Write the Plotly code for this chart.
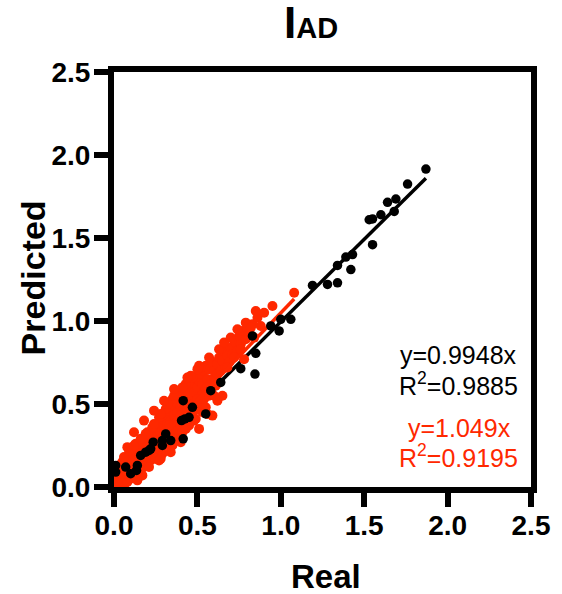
import plotly.graph_objects as go

# ---------------- data ----------------
black_real = [1.87, 1.76, 1.69, 1.64, 1.68, 1.60, 1.53, 1.55, 1.55, 1.43,
              1.39, 1.34, 1.42, 1.19, 1.28, 1.34, 1.00, 1.06, 0.94, 0.99,
              0.83, 0.85, 0.76, 0.845, 0.64, 0.58, 0.415, 0.47, 0.55, 0.45,
              0.425, 0.405, 0.31, 0.29, 0.29, 0.415, 0.235, 0.22, 0.19, 0.16,
              0.14, 0.135, 0.01, 0.01, 0.07, 0.10, 0.34, 0.21]
black_pred = [1.915, 1.825, 1.735, 1.715, 1.66, 1.64, 1.61, 1.615, 1.46, 1.40,
              1.385, 1.335, 1.31, 1.214, 1.22, 1.23, 1.01, 1.01, 0.97, 0.94,
              0.91, 0.805, 0.713, 0.68, 0.63, 0.58, 0.52, 0.48, 0.44, 0.42,
              0.41, 0.40, 0.32, 0.28, 0.25, 0.29, 0.27, 0.23, 0.21, 0.19,
              0.13, 0.10, 0.13, 0.09, 0.12, 0.08, 0.28, 0.22]

red_real = [0.00, 0.00, 0.01, 0.01, 0.02, 0.02, 0.03, 0.03, 0.04, 0.04,
            0.05, 0.05, 0.06, 0.06, 0.07, 0.07, 0.08, 0.08, 0.09, 0.09,
            0.10, 0.10, 0.11, 0.11, 0.12, 0.12, 0.13, 0.13, 0.14, 0.14,
            0.15, 0.15, 0.16, 0.16, 0.17, 0.17, 0.18, 0.18, 0.19, 0.19,
            0.20, 0.20, 0.21, 0.21, 0.22, 0.22, 0.23, 0.23, 0.24, 0.24,
            0.25, 0.25, 0.26, 0.26, 0.27, 0.27, 0.28, 0.28, 0.29, 0.29,
            0.30, 0.30, 0.31, 0.31, 0.32, 0.32, 0.33, 0.33, 0.34, 0.34,
            0.35, 0.35, 0.36, 0.36, 0.37, 0.37, 0.38, 0.38, 0.39, 0.39,
            0.40, 0.40, 0.41, 0.41, 0.42, 0.42, 0.43, 0.43, 0.44, 0.44,
            0.45, 0.45, 0.46, 0.46, 0.47, 0.47, 0.48, 0.48, 0.49, 0.49,
            0.50, 0.50, 0.51, 0.51, 0.52, 0.52, 0.53, 0.53, 0.54, 0.54,
            0.55, 0.55, 0.56, 0.57, 0.57, 0.58, 0.59, 0.59, 0.60, 0.60,
            0.61, 0.62, 0.62, 0.63, 0.64, 0.65, 0.65, 0.66, 0.67, 0.68,
            0.69, 0.70, 0.71, 0.72, 0.73, 0.74, 0.75, 0.76, 0.77, 0.78,
            0.79, 0.80, 0.81, 0.83, 0.84, 0.86, 0.88, 0.90, 0.95, 1.08,
            0.18, 0.22, 0.26, 0.30, 0.34, 0.38, 0.42, 0.46, 0.50, 0.56,
            0.02, 0.05, 0.08, 0.12, 0.15, 0.25, 0.33, 0.40, 0.44, 0.58,
            0.20, 0.23, 0.27, 0.31, 0.35, 0.39, 0.43, 0.47, 0.52, 0.57,
            0.21, 0.25, 0.29, 0.33, 0.37, 0.41, 0.45, 0.49, 0.53, 0.60,
            0.10, 0.13, 0.16, 0.19, 0.28, 0.32, 0.36, 0.41, 0.46, 0.51,
            0.63, 0.66, 0.68, 0.70, 0.72, 0.74, 0.76, 0.79, 0.82, 0.85,
            0.06, 0.09, 0.12, 0.17, 0.24, 0.27, 0.35, 0.43, 0.48, 0.55,
            0.08, 0.12, 0.18, 0.24, 0.30, 0.36, 0.44, 0.50, 0.14, 0.28,
            0.34, 0.40, 0.56, 0.62]
red_pred = [0.01, 0.06, 0.03, 0.10, 0.00, 0.07, 0.04, 0.13, 0.02, 0.09,
            0.05, 0.15, 0.00, 0.11, 0.07, 0.17, 0.03, 0.12, 0.08, 0.19,
            0.14, 0.05, 0.10, 0.20, 0.07, 0.16, 0.12, 0.22, 0.09, 0.18,
            0.13, 0.24, 0.10, 0.19, 0.15, 0.27, 0.12, 0.21, 0.17, 0.29,
            0.14, 0.24, 0.19, 0.31, 0.16, 0.26, 0.21, 0.33, 0.18, 0.28,
            0.23, 0.36, 0.20, 0.30, 0.26, 0.38, 0.22, 0.33, 0.28, 0.41,
            0.25, 0.35, 0.30, 0.43, 0.27, 0.38, 0.33, 0.46, 0.29, 0.40,
            0.35, 0.49, 0.31, 0.43, 0.38, 0.51, 0.34, 0.45, 0.40, 0.53,
            0.37, 0.48, 0.43, 0.56, 0.38, 0.50, 0.45, 0.58, 0.41, 0.52,
            0.47, 0.61, 0.43, 0.55, 0.50, 0.63, 0.46, 0.57, 0.52, 0.66,
            0.48, 0.60, 0.35, 0.64, 0.51, 0.68, 0.56, 0.62, 0.53, 0.70,
            0.59, 0.73, 0.65, 0.55, 0.71, 0.62, 0.43, 0.75, 0.66, 0.70,
            0.61, 0.74, 0.68, 0.78, 0.70, 0.55, 0.76, 0.82, 0.72, 0.79,
            0.75, 0.84, 0.80, 0.88, 0.87, 0.82, 0.91, 0.86, 0.94, 0.77,
            0.89, 0.95, 0.92, 0.98, 0.90, 1.02, 0.97, 1.05, 1.09, 1.17,
            0.18, 0.22, 0.27, 0.31, 0.35, 0.40, 0.44, 0.49, 0.53, 0.60,
            0.12, 0.08, 0.15, 0.14, 0.18, 0.28, 0.37, 0.43, 0.47, 0.57,
            0.33, 0.36, 0.42, 0.47, 0.53, 0.57, 0.62, 0.66, 0.72, 0.78,
            0.12, 0.17, 0.20, 0.25, 0.29, 0.33, 0.37, 0.41, 0.45, 0.55,
            0.22, 0.26, 0.29, 0.32, 0.44, 0.50, 0.55, 0.60, 0.67, 0.73,
            0.83, 0.87, 0.72, 0.90, 0.78, 0.95, 0.83, 0.99, 0.96, 1.06,
            0.18, 0.22, 0.25, 0.07, 0.38, 0.16, 0.25, 0.35, 0.40, 0.48,
            0.24, 0.33, 0.40, 0.46, 0.52, 0.59, 0.66, 0.71, 0.04, 0.17,
            0.21, 0.27, 0.44, 0.52]

black_slope = 0.9948
black_r2 = 0.9885
red_slope = 1.049
red_r2 = 0.9195
black_fit_x = [0.0, max(black_real)]
red_fit_x = [0.0, max(red_real)]

tick_vals = [0.0, 0.5, 1.0, 1.5, 2.0, 2.5]
tick_text = ["0.0", "0.5", "1.0", "1.5", "2.0", "2.5"]

title_main = "I"
title_sub = "AD"
x_title = "Real"
y_title = "Predicted"

# ---------------- styling ----------------
RED = "#FF2800"
BLACK = "#000000"
W, H = 562, 594
ML, MR, MT, MB = 114, 29, 72, 107
PW = W - ML - MR
PH = H - MT - MB
FONT = "Arial, 'Liberation Sans', Helvetica, sans-serif"


def px_x(px):
    return (px - ML) / PW


def px_y(py):
    return (H - MB - py) / PH


fig = go.Figure()

# black regression line (under red points)
fig.add_trace(go.Scatter(
    x=black_fit_x, y=[black_slope * v for v in black_fit_x],
    mode="lines", line=dict(color=BLACK, width=3.5),
    showlegend=False, hoverinfo="skip"))

fig.add_trace(go.Scatter(
    x=red_real, y=red_pred, mode="markers",
    marker=dict(color=RED, size=10, line=dict(width=0)),
    cliponaxis=False, showlegend=False))

fig.add_trace(go.Scatter(
    x=red_fit_x, y=[red_slope * v for v in red_fit_x],
    mode="lines", line=dict(color=RED, width=3.5),
    showlegend=False, hoverinfo="skip"))

fig.add_trace(go.Scatter(
    x=black_real, y=black_pred, mode="markers",
    marker=dict(color=BLACK, size=9.5, line=dict(width=0)),
    cliponaxis=False, showlegend=False))

axis_common = dict(
    range=[0, 2.5], tickvals=tick_vals, ticktext=tick_text,
    showline=True, linewidth=6, linecolor=BLACK, mirror=True,
    ticks="outside", ticklen=14, tickwidth=6, tickcolor=BLACK,
    showgrid=False, zeroline=False,
    tickfont=dict(family=FONT, size=28, color=BLACK, weight="bold"),
    fixedrange=True,
)

fig.update_layout(
    width=W, height=H, autosize=False,
    margin=dict(l=ML, r=MR, t=MT, b=MB, pad=0),
    paper_bgcolor="white", plot_bgcolor="white",
    xaxis=dict(**axis_common, ticklabelstandoff=-6),
    yaxis=dict(**axis_common, ticklabelstandoff=-2),
    font=dict(family=FONT, color=BLACK),
)

annotations = [
    dict(text=f"{title_main}<span style='font-size:29px'>{title_sub}</span>",
         x=px_x(312), y=px_y(23), xref="paper", yref="paper",
         xanchor="center", yanchor="middle", showarrow=False,
         font=dict(family=FONT, size=44, color=BLACK, weight="bold")),
    dict(text=x_title, x=px_x(327), y=px_y(576), xref="paper", yref="paper",
         xanchor="center", yanchor="middle", showarrow=False,
         font=dict(family=FONT, size=33, color=BLACK, weight="bold")),
    dict(text=y_title, x=px_x(33), y=px_y(278), xref="paper", yref="paper",
         xanchor="center", yanchor="middle", showarrow=False, textangle=-90,
         font=dict(family=FONT, size=34, color=BLACK, weight="bold")),
    dict(text=f"y={black_slope}x", x=px_x(460), y=px_y(355), xref="paper", yref="paper",
         xanchor="center", yanchor="middle", showarrow=False,
         font=dict(family=FONT, size=25, color=BLACK)),
    dict(text=f"R<sup>2</sup>={black_r2}", x=px_x(460), y=px_y(384), xref="paper", yref="paper",
         xanchor="center", yanchor="middle", showarrow=False,
         font=dict(family=FONT, size=25, color=BLACK)),
    dict(text=f"y={red_slope}x", x=px_x(461), y=px_y(428), xref="paper", yref="paper",
         xanchor="center", yanchor="middle", showarrow=False,
         font=dict(family=FONT, size=25, color=RED)),
    dict(text=f"R<sup>2</sup>={red_r2}", x=px_x(460), y=px_y(456), xref="paper", yref="paper",
         xanchor="center", yanchor="middle", showarrow=False,
         font=dict(family=FONT, size=25, color=RED)),
]
fig.update_layout(annotations=annotations)

fig.write_html("out.html")
